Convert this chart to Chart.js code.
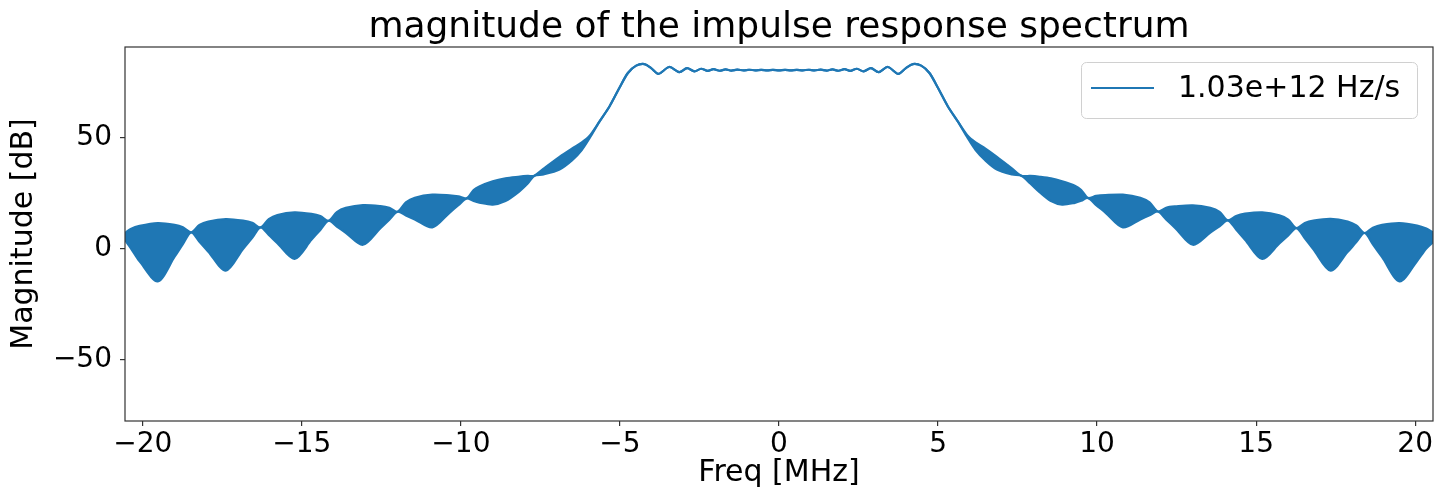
<!DOCTYPE html>
<html>
<head>
<meta charset="utf-8">
<title>magnitude of the impulse response spectrum</title>
<script src="https://cdn.jsdelivr.net/npm/chart.js@4.4.1/dist/chart.umd.min.js"></script>
<style>
  html, body { margin: 0; padding: 0; background: #fff; }
  canvas { display: block; }
</style>
</head>
<body>
<canvas id="spectrumChart" width="1440" height="496"></canvas>
<script>
const chartTitle = 'magnitude of the impulse response spectrum';
const seriesLabel = '1.03e+12 Hz/s';
const xTitle = 'Freq [MHz]';
const yTitle = 'Magnitude [dB]';
const xTicks = [-20, -15, -10, -5, 0, 5, 10, 15, 20];
const yTicks = [-50, 0, 50];

// frequency samples [MHz]
const freq = [
  -20.56, -20.38, -20.1, -19.53, -19.0, -18.74, -18.48,
  -18.22, -17.94, -17.39, -16.85, -16.56, -16.3,
  -16.04, -15.77, -15.23, -14.7, -14.42, -14.16,
  -13.9, -13.62, -13.08, -12.53, -12.25, -11.99,
  -11.73, -11.45, -10.9, -10.36, -10.08, -9.82,
  -9.6, -9.42, -9.0, -8.6, -8.2, -7.9, -7.69,
  -7.4, -6.9, -6.5, -6.2, -5.96,
  -5.64, -5.33, -5.02, -4.75, -4.49, -4.23, -4.02, -3.79, -3.45, -3.13,
  -2.89, -2.66, -2.45, -2.24, -2.06, -1.87, -1.68, -1.5, -1.31, -1.12,
  -0.94, -0.75, -0.56, -0.37, -0.19, 0,
  0.19, 0.37, 0.56, 0.75, 0.94, 1.12, 1.31, 1.5, 1.68, 1.87,
  2.06, 2.24, 2.45, 2.66, 2.89, 3.13, 3.42, 3.75, 3.99, 4.21,
  4.47, 4.73, 5.0, 5.31, 5.62,
  5.94, 6.18, 6.48, 6.85, 7.33, 7.62,
  7.9, 8.2, 8.55, 8.9, 9.3, 9.5, 9.71,
  9.97, 10.26, 10.81, 11.36, 11.65, 11.91,
  12.17, 12.46, 13.01, 13.56, 13.85, 14.11,
  14.37, 14.65, 15.19, 15.73, 16.01, 16.27,
  16.53, 16.8, 17.34, 17.88, 18.15, 18.41,
  18.67, 18.96, 19.51, 20.06, 20.35, 20.56
];

// top edge of the trace [dB]; in the side lobes the ripple is so dense it reads as a filled band
const upperEnv = [
  7.2, 9.0, 10.4, 11.7, 10.9, 9.8, 7.5,
  10.8, 12.4, 13.5, 12.8, 11.8, 9.7,
  13.4, 15.3, 16.5, 15.8, 14.8, 12.7,
  16.6, 18.5, 19.8, 19.3, 18.5, 16.8,
  21.0, 23.1, 24.5, 24.2, 23.7, 22.8,
  26.5, 28.2, 30.5, 31.8, 32.5, 32.9, 33.0,
  36.2, 41.5, 45.3, 48.0, 50.9,
  57.5, 64.2, 72.5, 79.3, 82.6, 83.3, 81.5, 78.9, 82.0, 79.7,
  81.5, 80.0, 81.2, 80.2, 81.0, 80.3, 80.9, 80.4, 80.8, 80.45,
  80.75, 80.5, 80.7, 80.5, 80.7, 80.5,
  80.7, 80.5, 80.7, 80.5, 80.75, 80.45, 80.8, 80.4, 80.9, 80.3,
  81.0, 80.2, 81.2, 80.0, 81.5, 79.7, 82.0, 78.9, 81.5, 83.3,
  82.6, 79.3, 72.5, 64.2, 57.5,
  50.9, 48.0, 45.3, 41.5, 36.2, 33.0,
  32.9, 32.5, 31.8, 30.5, 28.5, 26.6, 23.0,
  23.9, 24.3, 24.5, 23.1, 21.0, 16.9,
  18.6, 19.2, 19.7, 18.5, 16.7, 12.9,
  14.9, 15.9, 16.5, 15.2, 13.2, 9.4,
  11.7, 12.8, 13.6, 12.4, 10.6, 7.2,
  9.6, 10.9, 11.7, 10.6, 9.2, 7.5
];

// bottom edge of the trace [dB]; null where the trace is a single line
const lowerEnv = [
  4.0, 0.4, -5.6, -14.6, -3.5, 2.2, 7.5,
  3.3, -1.2, -9.8, 0.0, 5.0, 9.7,
  6.3, 2.6, -4.5, 4.1, 8.6, 12.7,
  10.1, 7.3, 1.9, 9.4, 13.2, 16.8,
  15.1, 13.3, 9.7, 16.3, 19.7, 22.8,
  21.6, 20.9, 20.0, 21.6, 25.5, 29.5, 33.0,
  33.6, 35.8, 40.0, 44.6, 49.8,
  null, null, null, null, null, null, null, null, null, null,
  null, null, null, null, null, null, null, null, null, null,
  null, null, null, null, null, null,
  null, null, null, null, null, null, null, null, null, null,
  null, null, null, null, null, null, null, null, null, null,
  null, null, null, null, null,
  49.8, 44.6, 40.0, 35.8, 33.6, 33.0,
  29.5, 25.5, 21.6, 20.0, 20.8, 21.7, 23.0,
  19.8, 16.4, 9.7, 13.3, 15.2, 16.9,
  13.3, 9.4, 1.9, 7.4, 10.2, 12.9,
  8.8, 4.2, -4.5, 2.5, 6.1, 9.4,
  4.8, -0.2, -9.8, -1.3, 3.1, 7.2,
  2.1, -3.7, -14.6, -5.4, 0.2, 3.0
];

const blue = '#1f77b4';
const font = "'DejaVu Sans', 'Liberation Sans', sans-serif";

const upperPts = freq.map((f, i) => ({ x: f, y: upperEnv[i] }));
const lowerPts = freq.map((f, i) => ({ x: f, y: lowerEnv[i] === null ? upperEnv[i] : lowerEnv[i] }));

const fmt = v => String(v).replace('-', '\u2212');

// title, frame and legend drawn like matplotlib does them
const decor = {
  id: 'decor',
  afterDraw(chart) {
    const { ctx, chartArea: a } = chart;
    ctx.save();
    ctx.strokeStyle = '#333';
    ctx.lineWidth = 1.2;
    ctx.strokeRect(a.left, a.top, a.right - a.left, a.bottom - a.top);

    ctx.fillStyle = '#000';
    ctx.font = '36px ' + font;
    ctx.textAlign = 'center';
    ctx.textBaseline = 'alphabetic';
    ctx.fillText(chartTitle, (a.left + a.right) / 2, 37);

    // legend box, upper right
    const bw = 336, bh = 56;
    const bx = a.right - 16 - bw, by = a.top + 15;
    ctx.beginPath();
    ctx.roundRect(bx + 0.5, by + 0.5, bw, bh, 5);
    ctx.fillStyle = 'rgba(255,255,255,0.8)';
    ctx.fill();
    ctx.strokeStyle = '#d0d0d0';
    ctx.lineWidth = 1;
    ctx.stroke();
    ctx.beginPath();
    ctx.moveTo(bx + 10, by + 26);
    ctx.lineTo(bx + 73, by + 26);
    ctx.strokeStyle = blue;
    ctx.lineWidth = 2.2;
    ctx.stroke();
    ctx.fillStyle = '#000';
    ctx.font = '30px ' + font;
    ctx.textAlign = 'left';
    ctx.textBaseline = 'middle';
    ctx.fillText(seriesLabel, bx + 97, by + 27);
    ctx.restore();
  }
};

new Chart(document.getElementById('spectrumChart'), {
  type: 'line',
  data: {
    datasets: [{
      label: seriesLabel,
      data: upperPts,
      borderColor: blue,
      borderWidth: 2.2,
      pointRadius: 0,
      tension: 0.3,
      fill: false
    }, {
      label: seriesLabel + ' (lower)',
      data: lowerPts,
      borderColor: blue,
      backgroundColor: blue,
      borderWidth: 2.2,
      pointRadius: 0,
      tension: 0.3,
      fill: '-1'
    }]
  },
  options: {
    responsive: false,
    animation: false,
    events: [],
    layout: { padding: { top: 47, right: 7, bottom: 0, left: 0 } },
    plugins: {
      legend: { display: false },
      title: { display: false },
      tooltip: { enabled: false }
    },
    scales: {
      x: {
        type: 'linear',
        min: -20.56,
        max: 20.56,
        afterBuildTicks: s => { s.ticks = xTicks.map(v => ({ value: v })); },
        afterFit: s => { s.height = 75; },
        grid: { drawOnChartArea: false, drawTicks: true, tickLength: 5, color: '#333', lineWidth: 1.2 },
        border: { display: false },
        ticks: { color: '#000', font: { family: font, size: 28 }, padding: 2, maxRotation: 0, callback: v => fmt(v) },
        title: { display: true, text: xTitle, color: '#000', font: { family: font, size: 30 }, padding: { top: 0, bottom: 5 } }
      },
      y: {
        type: 'linear',
        min: -77.5,
        max: 91,
        afterBuildTicks: s => { s.ticks = yTicks.map(v => ({ value: v })); },
        afterFit: s => { s.width = 125; },
        grid: { drawOnChartArea: false, drawTicks: true, tickLength: 5, color: '#333', lineWidth: 1.2 },
        border: { display: false },
        ticks: { color: '#000', font: { family: font, size: 28 }, padding: 8, callback: v => fmt(v) },
        title: { display: true, text: yTitle, color: '#000', font: { family: font, size: 30 }, padding: { top: 6, bottom: 0 } }
      }
    }
  },
  plugins: [decor]
});
</script>
</body>
</html>
